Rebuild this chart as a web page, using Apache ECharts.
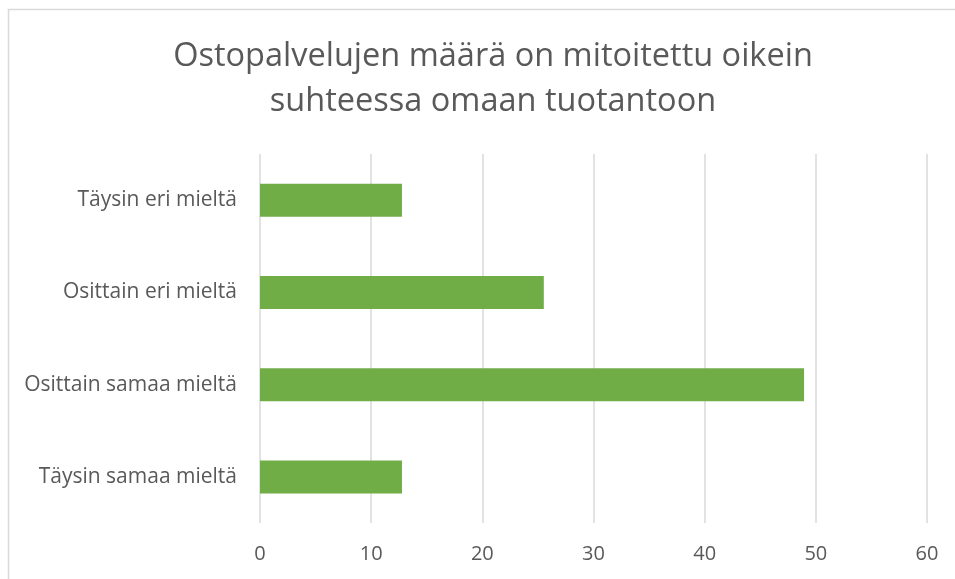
<!DOCTYPE html>
<html>
<head>
<meta charset="utf-8">
<script src="https://cdn.jsdelivr.net/npm/echarts@6/dist/echarts.min.js"></script>
<style>
  html, body { margin: 0; padding: 0; background: #fff; }
  #chart { width: 955px; height: 579px; }
</style>
</head>
<body>
<div id="chart"></div>
<script>
// data (looks like shares of 47 answers)
const categories = ['Täysin samaa mieltä', 'Osittain samaa mieltä', 'Osittain eri mieltä', 'Täysin eri mieltä']
const values = [12.77, 48.94, 25.53, 12.77]
const xTicks = [0, 10, 20, 30, 40, 50, 60]

const textColor = '#595959'
const font = 'Open Sans'

let chart = echarts.init(document.getElementById('chart'))

let option = {
    animation: false,
    graphic: [{
        type: 'rect',
        shape: { x: 8.5, y: 9.5, width: 960, height: 600 },
        style: { fill: 'none', stroke: '#d9d9d9', lineWidth: 1.5 },
        silent: true
    }],
    title: {
        text: 'Ostopalvelujen määrä on mitoitettu oikein\nsuhteessa omaan tuotantoon',
        left: 488,
        top: 29,
        textAlign: 'center',
        textStyle: {
            color: textColor,
            fontFamily: font,
            fontWeight: 'normal',
            fontSize: 32.5,
            lineHeight: 45
        }
    },
    grid: {
        left: 260,
        right: 955 - 927,
        top: 154,
        bottom: 579 - 523,
        containLabel: false
    },
    xAxis: {
        type: 'value',
        min: xTicks[0],
        max: xTicks[xTicks.length - 1],
        interval: 10,
        axisLine: { show: false },
        axisTick: { show: false },
        axisLabel: {
            color: textColor,
            fontFamily: font,
            fontSize: 20,
            margin: 21
        },
        splitLine: { lineStyle: { color: '#d9d9d9', width: 1.5 } }
    },
    yAxis: {
        type: 'category',
        data: categories,
        axisLine: { show: false },
        axisTick: { show: false },
        axisLabel: {
            color: textColor,
            fontFamily: font,
            fontSize: 21,
            margin: 23
        }
    },
    series: [{
        type: 'bar',
        data: values,
        barWidth: 33,
        itemStyle: { color: '#70ad47' }
    }]
}

chart.setOption(option)
</script>
</body>
</html>
